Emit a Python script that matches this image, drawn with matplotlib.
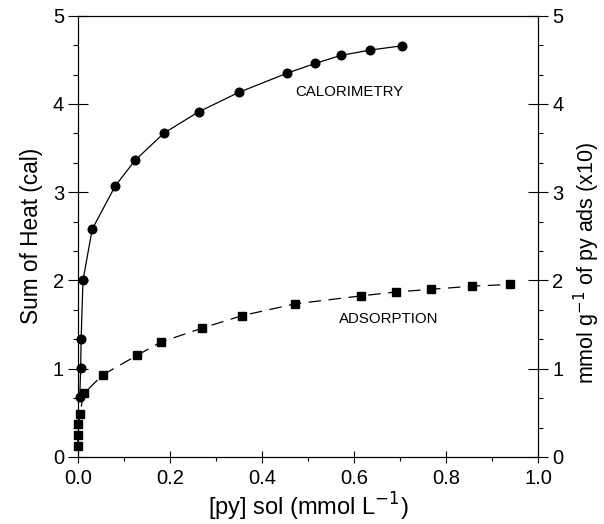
import matplotlib
matplotlib.use("Agg")
import matplotlib.pyplot as plt
from matplotlib.ticker import MultipleLocator, AutoMinorLocator, FormatStrFormatter

plt.rcParams['font.family'] = ['Liberation Sans', 'DejaVu Sans']

# calorimetry: sum of heat (cal) vs [py] sol
cal_x = [0.004, 0.006, 0.007, 0.011, 0.031, 0.081, 0.124, 0.187, 0.262, 0.349,
         0.455, 0.516, 0.571, 0.634, 0.705]
cal_y = [0.68, 1.01, 1.34, 2.00, 2.58, 3.07, 3.36, 3.67, 3.91, 4.13,
         4.35, 4.46, 4.55, 4.61, 4.66]

# adsorption: mmol/g of py ads (x10)
ads_x = [0.0, 0.0, 0.001, 0.004, 0.013, 0.054, 0.128, 0.180, 0.270, 0.356,
         0.472, 0.615, 0.692, 0.768, 0.856, 0.939]
ads_y = [0.12, 0.25, 0.37, 0.49, 0.72, 0.93, 1.15, 1.30, 1.46, 1.60,
         1.735, 1.825, 1.87, 1.90, 1.935, 1.955]

fig = plt.figure(figsize=(6.04, 5.24), dpi=100)
ax = fig.add_axes([0.129, 0.128, 0.762, 0.842])

ax.plot(cal_x, cal_y, '-o', color='black', lw=0.9, markersize=6.2, clip_on=False, zorder=3)
ax.plot(ads_x, ads_y, marker='s', color='black', lw=0.9, markersize=5.2,
        linestyle=(0, (10, 6)), clip_on=False, zorder=3)

ax.text(0.59, 4.14, 'CALORIMETRY', fontsize=10.8, ha='center', va='center')
ax.text(0.675, 1.56, 'ADSORPTION', fontsize=10.8, ha='center', va='center')

ax.set_xlim(0, 1.0)
ax.set_ylim(0, 5)
ax.xaxis.set_major_locator(MultipleLocator(0.2))
ax.xaxis.set_minor_locator(AutoMinorLocator(2))
ax.yaxis.set_major_locator(MultipleLocator(1))
ax.yaxis.set_minor_locator(AutoMinorLocator(3))
ax.xaxis.set_major_formatter(FormatStrFormatter('%.1f'))

for s in ax.spines.values():
    s.set_linewidth(0.8)

ax.tick_params(axis='y', which='major', direction='inout', length=14, width=0.8, labelsize=14.5, pad=3)
ax.tick_params(axis='y', which='minor', direction='out', length=3.5, width=0.8)
ax.tick_params(axis='x', which='major', direction='inout', length=9, width=0.8, labelsize=14.5, pad=4)
ax.tick_params(axis='x', which='minor', direction='out', length=3, width=0.8)

ax.set_xlabel('[py] sol (mmol L$^{-1}$)', fontsize=17, labelpad=2)
ax.set_ylabel('Sum of Heat (cal)', fontsize=16.3, labelpad=7)

ax2 = ax.twinx()
ax2.set_ylim(0, 5)
ax2.yaxis.set_major_locator(MultipleLocator(1))
ax2.yaxis.set_minor_locator(AutoMinorLocator(3))
ax2.tick_params(axis='y', which='major', direction='inout', length=14, width=0.8, labelsize=14.5, pad=3)
ax2.tick_params(axis='y', which='minor', direction='out', length=3.5, width=0.8)
for s in ax2.spines.values():
    s.set_linewidth(0.8)
ax2.set_ylabel('mmol g$^{-1}$ of py ads (x10)', fontsize=15.5, rotation=90)
ax2.yaxis.set_label_coords(1.072, 0.44)

plt.savefig("out.png", dpi=100)
